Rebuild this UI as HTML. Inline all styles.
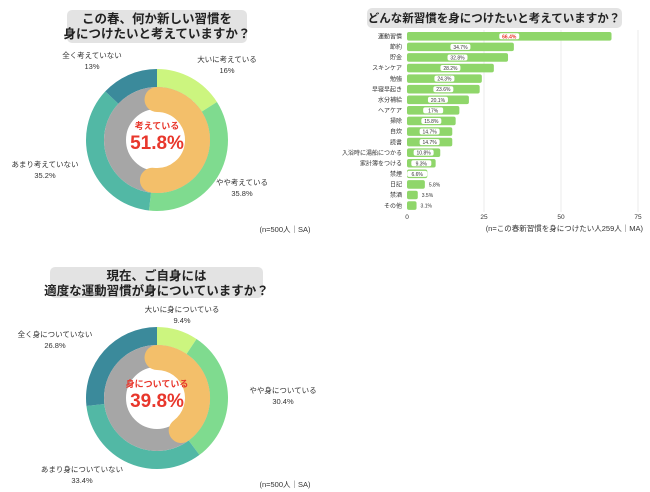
<!DOCTYPE html>
<html><head><meta charset="utf-8"><style>
body{margin:0;width:650px;height:492px;background:#fff;font-family:"Liberation Sans","Noto Sans CJK JP",sans-serif;overflow:hidden}
svg{position:absolute;left:0;top:0}
</style></head><body>
<svg id="s" width="650" height="492"></svg>
<script>
const d1Labels=["大いに考えている","やや考えている","あまり考えていない","全く考えていない"];
const d1Values=[16,35.8,35.2,13];
const d1Inner=51.8;
const d2Labels=["大いに身についている","やや身についている","あまり身についていない","全く身についていない"];
const d2Values=[9.4,30.4,33.4,26.8];
const d2Inner=39.8;
const barCats=["運動習慣","節約","貯金","スキンケア","勉強","早寝早起き","水分補給","ヘアケア","掃除","自炊","読書","入浴時に湯船につかる","家計簿をつける","禁煙","日記","禁酒","その他"];
const barVals=[66.4,34.7,32.8,28.2,24.3,23.6,20.1,17,15.8,14.7,14.7,10.8,9.3,6.6,5.8,3.5,3.1];
const xTicks=[0,25,50,75];

const S=document.getElementById('s');const NS="http://www.w3.org/2000/svg";
function el(t,a,p){const e=document.createElementNS(NS,t);for(const k in a)e.setAttribute(k,a[k]);(p||S).appendChild(e);return e;}
function txt(x,y,s,a){const e=el('text',Object.assign({x:x,y:y,'font-size':7.5,fill:'#333','text-anchor':'middle'},a||{}));e.textContent=s;return e;}
function pt(cx,cy,r,f){const a=f*2*Math.PI;return [cx+r*Math.sin(a),cy-r*Math.cos(a)];}
function seg(cx,cy,r0,r1,f0,f1){const l=(f1-f0)>0.5?1:0;const a=pt(cx,cy,r1,f0),b=pt(cx,cy,r1,f1),c=pt(cx,cy,r0,f1),d=pt(cx,cy,r0,f0);
return `M${a}L${a}A${r1},${r1} 0 ${l} 1 ${b}L${c}A${r0},${r0} 0 ${l} 0 ${d}Z`;}
const cols=["#ccf57f","#7fdb8f","#52b8a5","#3b8a9b"];
function title(x,y,w,h,lines){const r=el('rect',{x:x,y:y,width:w,height:h,rx:5,fill:'#e3e3e3'});
lines.forEach((l,i)=>{const t=txt(x+w/2,y+13+i*15,l,{'font-size':12.5,'font-weight':'bold',fill:'#222'});});}
function donut(cx,cy,vals,labels,inner,centerLabel,lpos,nm){
 const tot=vals.reduce((a,b)=>a+b,0);let acc=0;
 vals.forEach((v,i)=>{const p=el('path',{d:seg(cx,cy,53,71,acc/tot,(acc+v)/tot),fill:cols[i]});
  const lp=lpos[i];const t1=txt(lp[0],lp[1],labels[i]);
  const t2=txt(lp[0],lp[1]+11,v+'%');acc+=v;});
 const g=el('circle',{cx:cx,cy:cy,r:42,fill:'none',stroke:'#a6a6a6','stroke-width':22});
 const f=inner/100,a=pt(cx,cy,40.5,0),b=pt(cx,cy,40.5,f);
 const o=el('path',{d:`M${a}A40.5,40.5 0 ${f>0.5?1:0} 1 ${b}`,fill:'none',stroke:'#f3bf6a','stroke-width':25,'stroke-linecap':'round'});
 const c=txt(cx,cy-11,centerLabel,{'font-size':9,'font-weight':'bold',fill:'#e8372c'});
 const c2=txt(cx,cy+9,inner+'%',{'font-size':19,'font-weight':'bold',fill:'#e8372c'});
}
title(67,10,180,33,["この春、何か新しい習慣を","身につけたいと考えていますか？"]);
donut(157,140,d1Values,d1Labels,d1Inner,"考えている",[[227,62],[242,185],[45,167],[92,58]],'donut1');
let n=txt(285,232,"(n=500人｜SA)");
title(50,267,213,31,["現在、ご自身には","適度な運動習慣が身についていますか？"]);
donut(157,398,d2Values,d2Labels,d2Inner,"身についている",[[182,312],[283,393],[82,472],[55,337]],'donut2');
n=txt(285,487,"(n=500人｜SA)");
// bar chart
title(367,8,255,20,[]);
const bt=txt(494,22,"どんな新習慣を身につけたいと考えていますか？",{'font-size':11.5,'font-weight':'bold',fill:'#222'});
const X=v=>407+v*3.08;const Y=i=>32+i*10.58;
xTicks.forEach(t=>{if(t>0){const l=el('line',{x1:X(t),x2:X(t),y1:30,y2:212,stroke:'#e6e6e6','stroke-width':0.8});}
 const tl=txt(X(t),219,String(t),{'font-size':6.5});});
barCats.forEach((c,i)=>{const v=barVals[i];const y=Y(i);
 const r=el('rect',{x:X(0),y:y,width:X(v)-X(0),height:8.6,rx:2,fill:'#8fd66a'});
 const cl=txt(402,y+6.5,c,{'font-size':6,'text-anchor':'end'});
 const lbl=(v%1?v.toFixed(1):String(v))+'%';
 if(v>6){const cx=(X(0)+X(v))/2;const bx=el('rect',{x:cx-10,y:y+1.3,width:20,height:6,rx:2,fill:'#fff'});
  const vt=txt(cx,y+6.3,lbl,{'font-size':5,fill:i==0?'#e8372c':'#333','font-weight':i==0?'bold':'normal'});}
 else{const vt=txt(X(v)+4,y+6.3,lbl,{'font-size':5,'text-anchor':'start'});}
});
n=txt(643,231,"(n=この春新習慣を身につけたい人259人｜MA)",{'text-anchor':'end'});
</script></body></html>
